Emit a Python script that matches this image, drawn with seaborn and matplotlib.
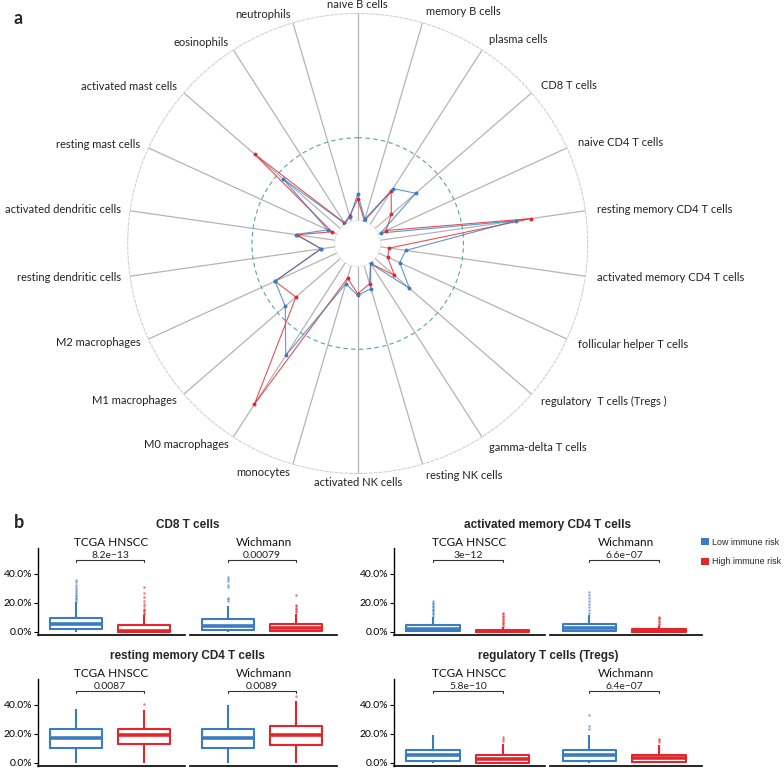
import numpy as np
import pandas as pd
import seaborn as sns
import matplotlib.pyplot as plt
from matplotlib.patches import Patch
from matplotlib.ticker import PercentFormatter

sns.set_theme(style="white")
plt.rcParams['font.family'] = ['Lato', 'DejaVu Sans']

# a) mean immune cell fractions, clockwise from the top
cell_types = ["naive B cells", "memory B cells", "plasma cells", "CD8 T cells",
              "naive CD4 T cells", "resting memory CD4 T cells",
              "activated memory CD4 T cells", "follicular helper T cells",
              "regulatory  T cells (Tregs )", "gamma-delta T cells",
              "resting NK cells", "activated NK cells", "monocytes",
              "M0 macrophages", "M1 macrophages", "M2 macrophages",
              "resting dendritic cells", "activated dendritic cells",
              "resting mast cells", "activated mast cells", "eosinophils",
              "neutrophils"]
low_risk = [0.032, 0.003, 0.051, 0.065, 0.003, 0.165, 0.031, 0.028, 0.055, 0.001,
            0.029, 0.035, 0.023, 0.133, 0.088, 0.082, 0.017, 0.048, 0.012, 0.092,
            0.001, 0.0055]
high_risk = [0.026, 0.001, 0.047, 0.026, 0.010, 0.184, 0.011, 0.012, 0.031, 0.001,
             0.023, 0.033, 0.016, 0.203, 0.071, 0.082, 0.017, 0.046, 0.0065, 0.137,
             0.002, 0.007]

# b) boxplot summaries in % : low whisker, q1, median, q3, high whisker
# order: TCGA low, TCGA high, Wichmann low, Wichmann high
cohorts = ["TCGA HNSCC", "Wichmann"]
groups = ["Low immune risk", "High immune risk"]

box_cd8 = [[0, 1.6, 5.3, 9.2, 20.4], [0, 0, 0.8, 4.6, 11.3],
           [0, 1.1, 3.9, 8.7, 18.0], [0, 0.5, 2.3, 5.3, 12.3]]
out_cd8 = [[21.5, 22.5, 23.5, 24.5, 25.5, 26.5, 28, 29.5, 31, 32.5, 34, 35.5],
           [12, 13, 14, 15, 16, 17.5, 19, 21, 24, 27, 31],
           [21, 22.5, 23.5, 31, 32, 35, 36.5, 38],
           [13.5, 14.5, 15.5, 16.5, 17.5, 18.5, 25]]
p_cd8 = ["8.2e\u221213", "0.00079"]

box_amcd4 = [[0, 0.4, 1.8, 4.4, 10.2], [0, 0, 0.2, 1.4, 3.4],
             [0, 0.7, 2.5, 5.1, 11.5], [0, 0, 0.3, 1.5, 3.7]]
out_amcd4 = [[11, 12, 13, 14, 15, 16, 17, 18, 19, 20, 21.5],
             [4, 5, 6, 7, 8, 9, 10, 11, 12, 13],
             [13, 15, 17, 19, 21, 23, 25, 27.5],
             [4.5, 5.5, 6.5, 7.5, 8.5, 9.5, 10.3]]
p_amcd4 = ["3e\u221212", "6.6e\u221207"]

box_rmcd4 = [[0, 10, 16.7, 23.2, 37.1], [0, 13, 18.8, 23.2, 36.1],
             [0, 10, 16.7, 23.2, 40.0], [0, 12.3, 19, 25.5, 42.4]]
out_rmcd4 = [[], [40.8], [], [45.8]]
p_rmcd4 = ["0.0087", "0.0089"]

box_treg = [[0, 1.4, 5.3, 8.8, 19.2], [0, 0, 2.3, 5.3, 13.0],
            [0, 1.4, 5.0, 8.8, 19.0], [0, 0.5, 3.3, 5.3, 12.0]]
out_treg = [[], [15, 16.5, 17.5], [23.5, 25, 33], [14.5, 15.5, 16.5]]
p_treg = ["5.8e\u221210", "6.4e\u221207"]

blue = "#3b7bc0"
red = "#e2262c"

fig = plt.figure(figsize=(7.84, 7.68), dpi=100)


def fx(px):
    return px / 784


def fy(py):
    return 1 - py / 768


# ---- radar ----
R = 230.0
cx, cy = 357.7, 243.5
ax = fig.add_axes([fx(cx - R), fy(cy + R), 2 * R / 784, 2 * R / 768], projection='polar')
ax.set_facecolor('none')
ax.set_theta_zero_location('N')
ax.set_theta_direction(-1)
ax.set_ylim(0, 0.25)
ax.set_rorigin(-0.0277)
theta = np.linspace(0, 2 * np.pi, len(cell_types), endpoint=False)
ax.set_xticks(theta)
ax.set_xticklabels([])
ax.set_yticks([0.1])
ax.set_yticklabels([])
ax.tick_params(length=0)
ax.xaxis.grid(True, color='#b4b4b4', lw=0.9, ls='-')
ax.yaxis.grid(True, color='#5aa5a8', lw=0.8, ls=(0, (4, 3)))
ax.spines['polar'].set_color('#cccccc')
ax.spines['polar'].set_linewidth(0.7)
ax.spines['polar'].set_linestyle((0, (3, 2)))
ax.spines['inner'].set_color('#dddddd')
ax.spines['inner'].set_linewidth(0.6)
ax.spines['inner'].set_linestyle((0, (3, 2)))

tc = np.append(theta, theta[0])
for vals, col in [(high_risk, red), (low_risk, blue)]:
    v = np.append(vals, vals[0])
    ax.plot(tc, v, color=col, lw=0.8, alpha=0.8, zorder=3)
    ax.plot(theta, vals, 'o', color=col, ms=2.8, mew=0, zorder=4)

for t, name in zip(theta, cell_types):
    s = np.sin(t)
    ha = 'left' if s > 0.05 else ('right' if s < -0.05 else 'center')
    pad = 12 if ha == 'left' else 9
    r_lab = (R + pad) / R * 0.2777 - 0.0277
    ax.text(t, r_lab, name, ha=ha, va='center', fontsize=8, color='#222222', clip_on=False)

fig.text(fx(14), fy(18), "a", fontsize=13, fontweight='bold', ha='left', va='center')
fig.text(fx(14), fy(523), "b", fontsize=13, fontweight='bold', ha='left', va='center')


# ---- boxplots ----
def expand(stats, outs):
    lo, q1, med, q3, hi = stats
    m = len(outs) + 1
    return [lo] + [q1] * m + [med] * m + [q3] * m + [hi] + list(outs)


def panel(xs, top, bottom, title, boxes, outs, pvals):
    for j, cohort in enumerate(cohorts):
        x0, x1 = xs[j]
        bx = fig.add_axes([fx(x0), fy(bottom), (x1 - x0) / 784, (bottom - top) / 768])
        rows = []
        for k, g in enumerate(groups):
            i = 2 * j + k
            for v in expand(boxes[i], outs[i]):
                rows.append((g, v / 100))
        df = pd.DataFrame(rows, columns=['risk', 'fraction'])
        sns.boxplot(data=df, x='risk', y='fraction', hue='risk', order=groups,
                    hue_order=groups, palette=[blue, red], fill=False, width=0.77,
                    linewidth=1.5, showcaps=False, fliersize=1.8,
                    medianprops=dict(linewidth=2.6),
                    flierprops=dict(marker='o', alpha=0.6),
                    legend=False, ax=bx)
        # filled outlier dots
        for ln in bx.lines:
            if ln.get_marker() == 'o':
                ln.set_markerfacecolor(ln.get_markeredgecolor())
                ln.set_markeredgewidth(0)
        bx.set_ylim(-0.023, 0.578)
        bx.set_xlim(-0.565, 1.61)
        bx.set_xlabel('')
        bx.set_ylabel('')
        bx.set_xticks([])
        bx.set_title(cohort, fontsize=8.5, pad=1, color='#111111')
        bx.spines['top'].set_visible(False)
        bx.spines['right'].set_visible(False)
        bx.spines['bottom'].set_color('black')
        bx.spines['bottom'].set_linewidth(1.2)
        if j == 0:
            bx.spines['left'].set_color('black')
            bx.spines['left'].set_linewidth(1.0)
            bx.set_yticks([0, 0.2, 0.4])
            bx.yaxis.set_major_formatter(PercentFormatter(1.0, decimals=1))
            bx.tick_params(axis='y', left=True, length=3, width=0.8, labelsize=7.5,
                           pad=1, colors='black')
        else:
            bx.spines['left'].set_visible(False)
            bx.set_yticks([])
        bx.plot([0, 0, 1, 1], [0.481, 0.494, 0.494, 0.481], color='#333333', lw=0.8)
        bx.text(0.5, 0.527, pvals[j], ha='center', va='center', fontsize=7.5, color='#222222')
    fig.text(fx((xs[0][0] + xs[1][1]) / 2), fy(top - 23), title, ha='center', va='center',
             fontsize=8.5, fontweight='bold', family=['Liberation Sans', 'DejaVu Sans'])


left_x = [(38, 185), (190, 337)]
right_x = [(394, 545), (550, 702)]
panel(left_x, 548, 635, "CD8 T cells", box_cd8, out_cd8, p_cd8)
panel(right_x, 548, 635, "activated memory CD4 T cells", box_amcd4, out_amcd4, p_amcd4)
panel(left_x, 679, 766, "resting memory CD4 T cells", box_rmcd4, out_rmcd4, p_rmcd4)
panel(right_x, 679, 766, "regulatory T cells (Tregs)", box_treg, out_treg, p_treg)

handles = [Patch(facecolor=blue, edgecolor='none'), Patch(facecolor=red, edgecolor='none')]
fig.legend(handles, groups, loc='center left', bbox_to_anchor=(fx(701), fy(552)),
           frameon=False, handlelength=0.9, handleheight=0.9,
           handletextpad=0.35, labelspacing=1.2, borderpad=0, borderaxespad=0,
           prop={'family': ['Liberation Sans', 'DejaVu Sans'], 'size': 6.4})

fig.savefig("out.png", dpi=100)
